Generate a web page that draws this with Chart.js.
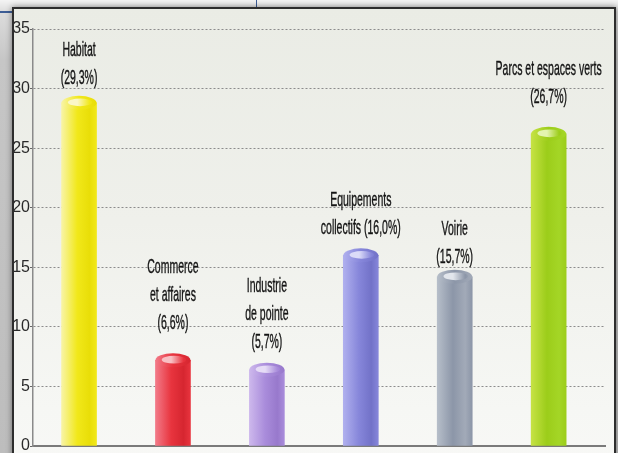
<!DOCTYPE html>
<html>
<head>
<meta charset="utf-8">
<script src="https://cdn.jsdelivr.net/npm/chart.js@4.4.1/dist/chart.umd.min.js"></script>
<style>
    html, body {
        margin: 0;
        padding: 0;
        width: 618px;
        height: 453px;
        overflow: hidden;
    }
    body {
        position: relative;
        background: linear-gradient(to bottom, #f4f4f4 0px, #dcdcdc 12px, #c6c6c6 60px, #bdbdbd 453px);
    }
    #frame {
        position: absolute;
        left: 12px;
        top: 7px;
        width: 600px;
        height: 470px;
        border: 2px solid #2d2d2d;
        background: linear-gradient(to bottom, #eaece5 0%, #eff0eb 45%, #f6f7f4 85%, #f8f8f6 100%);
        box-shadow: 0 0 6px rgba(0, 0, 0, 0.45);
    }
    #chartBox {
        position: absolute;
        left: 0;
        top: 0;
        width: 598px;
        height: 447px;
    }
    .rule-h { position: absolute; left: 0; top: 11px; width: 13px; height: 2px; background: #3d5d96; }
    .rule-v { position: absolute; left: 256px; top: 0; width: 1px; height: 7px; background: #3d5d96; }
</style>
</head>
<body>
<div class="rule-h"></div>
<div class="rule-v"></div>
<div id="frame">
    <div id="chartBox"><canvas id="landUseChart"></canvas></div>
</div>
<script>
const categories = ['Habitat', 'Commerce et affaires', 'Industrie de pointe', 'Equipements collectifs', 'Voirie', 'Parcs et espaces verts'];
const barLabels = [
    ['Habitat', '(29,3%)'],
    ['Commerce', 'et affaires', '(6,6%)'],
    ['Industrie', 'de pointe', '(5,7%)'],
    ['Equipements', 'collectifs (16,0%)'],
    ['Voirie', '(15,7%)'],
    ['Parcs et espaces verts', '(26,7%)']
];
const barValues = [28.8, 7.2, 6.4, 16.0, 14.2, 26.2];
const yTicks = [0, 5, 10, 15, 20, 25, 30, 35];

// light edge, main, dark, hole highlight
const palette = [
    ['#f8f4a6', '#f1e81a', '#e9de08', '#fbf7c8'],
    ['#f27a88', '#e8343e', '#d62630', '#f8c0c4'],
    ['#cdb8ec', '#a98cdb', '#9879cc', '#e6dcf6'],
    ['#b0b0ee', '#8686da', '#7272c8', '#dcdcf8'],
    ['#b6bec9', '#8c96a8', '#a2aab8', '#e2e6ec'],
    ['#c6e244', '#9ccd1a', '#a4d626', '#e4f4b0']
];
const labelGap = [19, 31, 22, 21, 14, 31];
const lineStep = 28;

function barGradient(context) {
    const chart = context.chart;
    const c = palette[context.dataIndex];
    if (!chart.chartArea) return c[1];
    const x = chart.scales.x.getPixelForValue(context.dataIndex);
    const g = chart.ctx.createLinearGradient(x - 17.5, 0, x + 17.5, 0);
    g.addColorStop(0, c[0]);
    g.addColorStop(0.45, c[1]);
    g.addColorStop(0.8, c[2]);
    g.addColorStop(1, c[1]);
    return g;
}

const cylinderTops = {
    id: 'cylinderTops',
    afterDatasetsDraw(chart) {
        const ctx = chart.ctx;
        chart.getDatasetMeta(0).data.forEach((bar, i) => {
            const c = palette[i];
            const w = bar.width / 2;
            const h = 7;
            ctx.save();
            let g = ctx.createLinearGradient(bar.x - w, 0, bar.x + w, 0);
            g.addColorStop(0, c[0]);
            g.addColorStop(0.5, c[1]);
            g.addColorStop(1, c[2]);
            ctx.beginPath();
            ctx.ellipse(bar.x, bar.y, w, h, 0, 0, Math.PI * 2);
            ctx.fillStyle = g;
            ctx.fill();
            // inner opening
            g = ctx.createLinearGradient(bar.x - w, 0, bar.x + w, 0);
            g.addColorStop(0, c[3]);
            g.addColorStop(0.45, c[3]);
            g.addColorStop(0.8, c[1]);
            g.addColorStop(1, c[2]);
            ctx.beginPath();
            ctx.ellipse(bar.x + 1, bar.y - 0.5, w * 0.7, h * 0.55, 0, 0, Math.PI * 2);
            ctx.fillStyle = g;
            ctx.fill();
            ctx.restore();
        });
    }
};

const barCaptions = {
    id: 'barCaptions',
    afterDraw(chart) {
        const ctx = chart.ctx;
        ctx.save();
        ctx.fillStyle = '#141414';
        ctx.strokeStyle = '#141414';
        ctx.lineWidth = 0.4;
        ctx.font = '21px "Liberation Sans Narrow", "Liberation Sans", Arial, sans-serif';
        ctx.textAlign = 'center';
        ctx.textBaseline = 'alphabetic';
        chart.getDatasetMeta(0).data.forEach((bar, i) => {
            const lines = barLabels[i];
            const base = bar.y - labelGap[i];
            lines.forEach((line, k) => {
                const y = base - (lines.length - 1 - k) * lineStep;
                ctx.save();
                ctx.translate(bar.x, y);
                ctx.scale(0.5, 1);
                ctx.fillText(line, 0, 0);
                ctx.strokeText(line, 0, 0);
                ctx.restore();
            });
        });
        ctx.restore();
    }
};

const ctx = document.getElementById('landUseChart');
new Chart(ctx, {
    type: 'bar',
    data: {
        labels: categories,
        datasets: [{
            data: barValues.map((v, i) => ({ x: i, y: v })),
            backgroundColor: barGradient,
            borderWidth: 0,
            barThickness: 35
        }]
    },
    options: {
        responsive: true,
        maintainAspectRatio: false,
        animation: false,
        layout: {
            padding: { top: 20, right: 7, bottom: 0, left: 0 }
        },
        plugins: {
            legend: { display: false },
            tooltip: { enabled: false }
        },
        scales: {
            x: {
                type: 'linear',
                offset: false,
                min: -0.49,
                max: 5.6,
                ticks: { display: false },
                grid: { display: false, drawTicks: false },
                border: { display: true, color: '#7a7a7a', width: 2 },
                afterFit: scale => { scale.height = 10; }
            },
            y: {
                min: 0,
                max: 35,
                afterBuildTicks: scale => { scale.ticks = yTicks.map(v => ({ value: v })); },
                ticks: {
                    color: '#2a2a2a',
                    padding: 0,
                    font: { family: '"Liberation Sans Narrow", "Liberation Sans", Arial, sans-serif', size: 16 }
                },
                grid: {
                    color: '#8c8c8c',
                    lineWidth: 1,
                    tickLength: 3,
                    tickColor: '#666',
                    tickBorderDash: []
                },
                border: { display: true, color: '#8a8a8a', width: 1.5, dash: [2, 2] },
                afterFit: scale => { scale.width = 19; }
            }
        }
    },
    plugins: [cylinderTops, barCaptions]
});
</script>
</body>
</html>
